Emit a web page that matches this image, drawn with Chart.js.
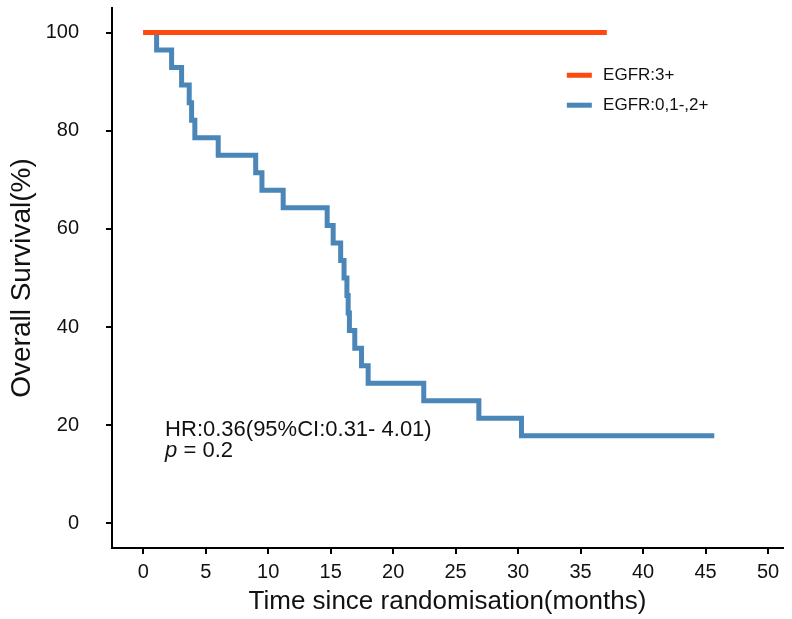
<!DOCTYPE html>
<html>
<head>
<meta charset="utf-8">
<script src="https://cdn.jsdelivr.net/npm/chart.js@4/dist/chart.umd.min.js"></script>
<style>
  body { margin: 0; background: #fff; }
  canvas { display: block; }
</style>
</head>
<body>
<canvas id="km" width="792" height="619"></canvas>
<script>
// --- data ---
const xTicks = [0, 5, 10, 15, 20, 25, 30, 35, 40, 45, 50];
const yTicks = [0, 20, 40, 60, 80, 100];

const highLabel = 'EGFR:3+';
const highTime = [0, 37.1];
const highSurv = [100, 100];

const lowLabel = 'EGFR:0,1-,2+';
const lowTime = [0, 1.07, 2.27, 3.07, 3.68, 3.87, 4.13, 6.0, 9.0, 9.5, 11.2, 14.72, 15.2, 15.8, 16.07,
                 16.3, 16.4, 16.5, 16.93, 17.47, 18.0, 22.45, 26.86, 30.27, 45.7];
const lowSurv = [100, 96.43, 92.86, 89.29, 85.71, 82.14, 78.57, 75.0, 71.43, 67.86, 64.29, 60.71, 57.14, 53.57, 50.0,
                 46.43, 42.86, 39.29, 35.71, 32.14, 28.57, 25.0, 21.43, 17.86, 17.86];

const statLines = ['HR:0.36(95%CI:0.31- 4.01)', 'p = 0.2'];

const FONT = "'Liberation Sans', Arial, sans-serif";
const ORANGE = '#ff4a0f';
const BLUE = '#4a86b8';

function toPoints(xs, ys) {
    return xs.map((x, i) => ({ x: x, y: ys[i] }));
}

// legend + HR text, placed in data units
const annotations = {
    id: 'annotations',
    afterDraw(chart) {
        const ctx = chart.ctx;
        const xs = chart.scales.x, ys = chart.scales.y;
        ctx.save();

        // legend
        const items = [[highLabel, ORANGE, 91.3], [lowLabel, BLUE, 85.2]];
        items.forEach(([label, color, yv]) => {
            const py = ys.getPixelForValue(yv);
            ctx.strokeStyle = color;
            ctx.lineWidth = 5;
            ctx.beginPath();
            ctx.moveTo(xs.getPixelForValue(33.9), py);
            ctx.lineTo(xs.getPixelForValue(35.9), py);
            ctx.stroke();
            ctx.fillStyle = '#111';
            ctx.font = '17px ' + FONT;
            ctx.textBaseline = 'middle';
            ctx.fillText(label, xs.getPixelForValue(36.8), py);
        });

        // HR and p value
        const tx = xs.getPixelForValue(1.75);
        ctx.fillStyle = '#111';
        ctx.textBaseline = 'middle';
        ctx.font = '22px ' + FONT;
        ctx.fillText(statLines[0], tx, ys.getPixelForValue(19.0));
        ctx.font = 'italic 22px ' + FONT;
        ctx.fillText('p', tx, ys.getPixelForValue(14.8));
        const pw = ctx.measureText('p').width;
        ctx.font = '22px ' + FONT;
        ctx.fillText(statLines[1].slice(1), tx + pw, ys.getPixelForValue(14.8));
        ctx.restore();
    }
};

new Chart(document.getElementById('km'), {
    type: 'line',
    data: {
        datasets: [
            {
                label: highLabel,
                data: toPoints(highTime, highSurv),
                borderColor: ORANGE,
                borderWidth: 5,
                pointRadius: 0,
                stepped: 'before',
                fill: false
            },
            {
                label: lowLabel,
                data: toPoints(lowTime, lowSurv),
                borderColor: BLUE,
                borderWidth: 5,
                pointRadius: 0,
                stepped: 'before',
                fill: false
            }
        ]
    },
    options: {
        responsive: false,
        animation: false,
        layout: { padding: { top: 8, right: 9, left: 0, bottom: 0 } },
        plugins: {
            legend: { display: false },
            tooltip: { enabled: false }
        },
        scales: {
            x: {
                type: 'linear',
                min: -2.5,
                max: 51.2,
                afterBuildTicks: s => { s.ticks = xTicks.map(v => ({ value: v })); },
                afterFit: s => { s.height = 71; s.paddingLeft = 0; s.paddingRight = 0; },
                border: { color: '#000', width: 2 },
                grid: { drawOnChartArea: false, drawTicks: true, tickLength: 6, color: '#000', lineWidth: 2 },
                ticks: { color: '#111', font: { family: FONT, size: 20 }, padding: 6, maxRotation: 0 },
                title: {
                    display: true,
                    text: 'Time since randomisation(months)',
                    color: '#111',
                    font: { family: FONT, size: 26 },
                    padding: { top: 0, bottom: 2 }
                }
            },
            y: {
                min: -5,
                max: 105,
                afterBuildTicks: s => { s.ticks = yTicks.map(v => ({ value: v })); },
                afterFit: s => { s.width = 112; s.paddingTop = 0; s.paddingBottom = 0; },
                border: { color: '#000', width: 2 },
                grid: { drawOnChartArea: false, drawTicks: true, tickLength: 6, color: '#000', lineWidth: 2 },
                ticks: { color: '#111', font: { family: FONT, size: 20 }, padding: 27 },
                title: {
                    display: true,
                    text: 'Overall Survival(%)',
                    color: '#111',
                    font: { family: FONT, size: 28 },
                    padding: { top: 5, bottom: 0 }
                }
            }
        }
    },
    plugins: [annotations]
});
</script>
</body>
</html>
